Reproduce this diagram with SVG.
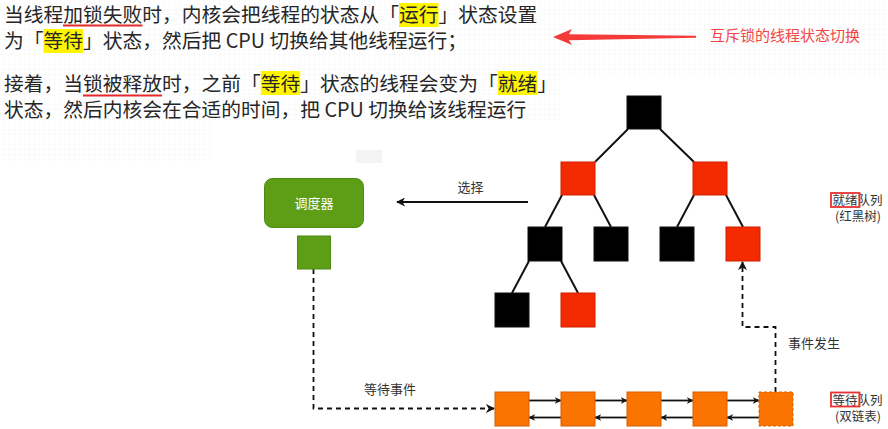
<svg xmlns="http://www.w3.org/2000/svg" width="888" height="429" viewBox="0 0 888 429">
<style>
.t{font-family:"Noto Sans CJK SC","Noto Sans",sans-serif;font-size:19.75px;fill:#262626}
.s{font-family:"Noto Sans CJK SC","Noto Sans",sans-serif;font-size:13px;fill:#333}
.q{font-family:"Noto Sans CJK SC","Noto Sans",sans-serif;font-size:12.5px;fill:#333}
.blk{fill:#000;stroke:#111;stroke-width:1}
.red{fill:#f42a00;stroke:#d02000;stroke-width:1}
.org{fill:#fb7300;stroke:#d75e00;stroke-width:1}
.edge{stroke:#111;stroke-width:2;fill:none}
.arr{stroke:#111;stroke-width:1.8;fill:none}
.dash{stroke:#111;stroke-width:1.8;fill:none;stroke-dasharray:5 4}
.hl{fill:#fff500}
.ul{stroke:#e42a2a;stroke-width:2}
.box{fill:none;stroke:#e83030;stroke-width:1.8}
</style>
<defs>
<pattern id="grid" width="5" height="5" patternUnits="userSpaceOnUse">
<path d="M5 0V5H0" fill="none" stroke="#f6f6f6" stroke-width="1"/>
</pattern>
<marker id="ah" viewBox="0 0 10 10" refX="9" refY="5" markerWidth="7" markerHeight="7" markerUnits="userSpaceOnUse" orient="auto">
<path d="M0,0 L10,5 L0,10 L3,5 z" fill="#111"/>
</marker>
<marker id="ah2" viewBox="0 0 10 10" refX="9" refY="5" markerWidth="9" markerHeight="9" markerUnits="userSpaceOnUse" orient="auto">
<path d="M0,0 L10,5 L0,10 L3,5 z" fill="#111"/>
</marker>
</defs>
<rect width="888" height="429" fill="#fff"/>
<rect x="0" y="0" width="888" height="78" fill="url(#grid)"/>
<rect x="0" y="78" width="560" height="42" fill="url(#grid)"/>
<rect x="0" y="120" width="210" height="42" fill="url(#grid)"/>

<g id="intro-text">
<rect class="hl" x="399" y="3" width="39.5" height="24"/>
<rect class="hl" x="43.5" y="29" width="39.5" height="24"/>
<rect class="hl" x="260.75" y="71" width="39.5" height="24"/>
<rect class="hl" x="497.75" y="71" width="39.5" height="24"/>
<text class="t" x="4" y="22">当线程加锁失败时，内核会把线程的状态从「运行」状态设置</text>
<text class="t" x="4" y="48">为「等待」状态，然后把 CPU 切换给其他线程运行；</text>
<text class="t" x="4" y="91">接着，当锁被释放时，之前「等待」状态的线程会变为「就绪」</text>
<text class="t" x="4" y="117">状态，然后内核会在合适的时间，把 CPU 切换给该线程运行</text>
<line class="ul" x1="63" y1="25.5" x2="142.5" y2="25.5"/>
<line class="ul" x1="83" y1="95.5" x2="162" y2="95.5"/>
</g>

<g id="title-arrow">
<polygon points="553,37 572,29 569,34.2 696,35.8 696,37.8 569,40.2 572,45" fill="#f53a3a"/>
<text x="710" y="41" font-family="'Noto Sans CJK SC','Noto Sans',sans-serif" font-size="15" fill="#f24545">互斥锁的线程状态切换</text>
</g>

<rect x="356" y="150" width="26" height="13" fill="#f3f3f3"/>

<g id="connectors">
<line class="edge" x1="628" y1="129" x2="595" y2="162"/>
<line class="edge" x1="660" y1="129" x2="694" y2="162"/>
<line class="edge" x1="562" y1="195" x2="545" y2="227"/>
<line class="edge" x1="594" y1="195" x2="611" y2="227"/>
<line class="edge" x1="694" y1="195" x2="677" y2="227"/>
<line class="edge" x1="726" y1="195" x2="743" y2="227"/>
<line class="edge" x1="529" y1="261" x2="512" y2="293"/>
<line class="edge" x1="561" y1="261" x2="578" y2="293"/>
<line class="arr" x1="528" y1="202" x2="397" y2="202" marker-end="url(#ah2)"/>
<path class="dash" d="M313.5 269 V408.5 H494" marker-end="url(#ah2)"/>
<path class="dash" d="M775.5 392 V327 H742.5 V262" marker-end="url(#ah2)"/>
<line class="arr" x1="529" y1="400.5" x2="561" y2="400.5" marker-end="url(#ah)"/>
<line class="arr" x1="595" y1="400.5" x2="627" y2="400.5" marker-end="url(#ah)"/>
<line class="arr" x1="661" y1="400.5" x2="693" y2="400.5" marker-end="url(#ah)"/>
<line class="arr" x1="727" y1="400.5" x2="759" y2="400.5" marker-end="url(#ah)"/>
<line class="arr" x1="561" y1="417.5" x2="529" y2="417.5" marker-end="url(#ah)"/>
<line class="arr" x1="627" y1="417.5" x2="595" y2="417.5" marker-end="url(#ah)"/>
<line class="arr" x1="693" y1="417.5" x2="661" y2="417.5" marker-end="url(#ah)"/>
<line class="arr" x1="759" y1="417.5" x2="727" y2="417.5" marker-end="url(#ah)"/>
<text class="s" x="470.5" y="192" text-anchor="middle">选择</text>
<text class="s" x="390" y="394" text-anchor="middle">等待事件</text>
<text class="s" x="814" y="348" text-anchor="middle">事件发生</text>
</g>

<g id="scheduler">
<rect x="264.5" y="178.5" width="99" height="49" rx="8" fill="#5e9e17" stroke="#4c8a12"/>
<text x="314" y="207.5" text-anchor="middle" font-family="'Noto Sans CJK SC','Noto Sans',sans-serif" font-size="13" fill="#fff">调度器</text>
</g>
<g id="sched-slot"><rect x="297.5" y="236" width="33" height="33" fill="#5e9e17" stroke="#4c8a12"/></g>

<g id="rb-root"><rect class="blk" x="627" y="96" width="34" height="33"/></g>
<g id="rb-l"><rect class="red" x="561" y="162" width="34" height="33"/></g>
<g id="rb-r"><rect class="red" x="693" y="162" width="34" height="33"/></g>
<g id="rb-ll"><rect class="blk" x="528" y="227" width="34" height="34"/></g>
<g id="rb-lr"><rect class="blk" x="594" y="227" width="34" height="34"/></g>
<g id="rb-rl"><rect class="blk" x="660" y="227" width="34" height="34"/></g>
<g id="rb-rr"><rect class="red" x="726" y="227" width="34" height="34"/></g>
<g id="rb-lll"><rect class="blk" x="495" y="293" width="34" height="34"/></g>
<g id="rb-llr"><rect class="red" x="561" y="293" width="34" height="34"/></g>

<g id="wq1"><rect class="org" x="495" y="392" width="34" height="34"/></g>
<g id="wq2"><rect class="org" x="561" y="392" width="34" height="34"/></g>
<g id="wq3"><rect class="org" x="627" y="392" width="34" height="34"/></g>
<g id="wq4"><rect class="org" x="693" y="392" width="34" height="34"/></g>
<g id="wq5"><rect x="759" y="392" width="34" height="34" fill="#fb7300" stroke="#d75e00" stroke-dasharray="3 2"/></g>

<g id="label-ready">
<text class="q" x="832.5" y="205">就绪队列</text>
<text class="q" x="858" y="221" text-anchor="middle">(红黑树)</text>
<rect class="box" x="831" y="193" width="28.5" height="14"/>
</g>
<g id="label-wait">
<text class="q" x="832.5" y="404.5">等待队列</text>
<text class="q" x="858" y="420.5" text-anchor="middle">(双链表)</text>
<rect class="box" x="831" y="392.5" width="28.5" height="14"/>
</g>
</svg>
